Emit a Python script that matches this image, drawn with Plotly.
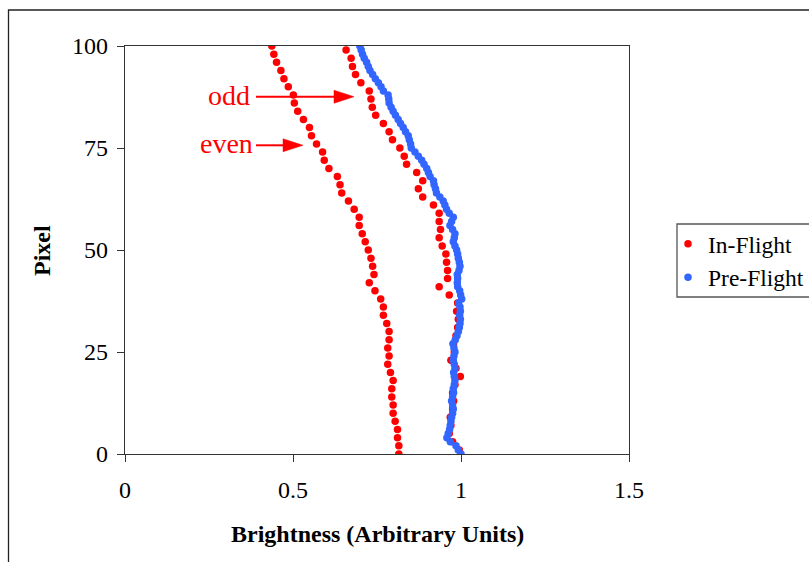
import plotly.graph_objects as go

# ---------------- data ----------------
pre_flight_pixel = list(range(0, 101))
pre_flight_brightness = [
    1.000, 0.992, 0.985, 0.968, 0.958, 0.962, 0.966, 0.968, 0.970, 0.972,
    0.975, 0.977, 0.975, 0.972, 0.975, 0.978, 0.977, 0.980, 0.982, 0.980,
    0.978, 0.982, 0.980, 0.977, 0.979, 0.982, 0.979, 0.976, 0.983, 0.988,
    0.992, 0.995, 0.997, 0.998, 0.996, 0.998, 0.997, 0.993, 1.002, 0.999,
    0.996, 0.990, 0.989, 0.990, 0.989, 0.994, 0.997, 0.995, 0.992, 0.990,
    0.987, 0.982, 0.977, 0.980, 0.982, 0.975, 0.967, 0.972, 0.977, 0.965,
    0.957, 0.952, 0.947, 0.937, 0.927, 0.924, 0.920, 0.918, 0.908, 0.903,
    0.898, 0.890, 0.883, 0.873, 0.863, 0.852, 0.850, 0.846, 0.843, 0.835,
    0.828, 0.820, 0.813, 0.805, 0.798, 0.792, 0.786, 0.785, 0.783, 0.769,
    0.762, 0.754, 0.745, 0.737, 0.729, 0.724, 0.719, 0.712, 0.707, 0.703,
    0.699,
]

in_flight_odd_pixel = list(range(1, 100, 2))
in_flight_odd_brightness = [
    0.995, 0.975, 0.965, 0.970, 0.968, 0.975, 0.978, 0.975, 0.982, 0.998,
    0.985, 0.970, 0.980, 0.978, 0.985, 0.990, 0.992, 0.987, 0.990, 0.965,
    0.935, 0.960, 0.960, 0.957, 0.955, 0.944, 0.935, 0.939, 0.935, 0.935,
    0.918, 0.886, 0.873, 0.886, 0.868, 0.838, 0.831, 0.818, 0.796, 0.786,
    0.769, 0.746, 0.736, 0.732, 0.727, 0.702, 0.686, 0.677, 0.673, 0.658,
]

in_flight_even_pixel = list(range(0, 101, 2))
in_flight_even_brightness = [
    0.815, 0.815, 0.811, 0.811, 0.804, 0.798, 0.798, 0.794, 0.794, 0.798,
    0.790, 0.782, 0.786, 0.782, 0.786, 0.786, 0.779, 0.769, 0.769, 0.761,
    0.744, 0.727, 0.741, 0.737, 0.732, 0.724, 0.715, 0.706, 0.697, 0.697,
    0.682, 0.665, 0.645, 0.640, 0.632, 0.607, 0.593, 0.588, 0.570, 0.555,
    0.549, 0.531, 0.514, 0.504, 0.501, 0.486, 0.473, 0.464, 0.451, 0.443,
    0.437,
]

x_ticks = [0, 0.5, 1, 1.5]
x_tick_labels = ["0", "0.5", "1", "1.5"]
y_ticks = [0, 25, 50, 75, 100]
y_tick_labels = ["0", "25", "50", "75", "100"]

# ---------------- figure ----------------
SERIF = "Liberation Serif, Times New Roman, serif"
RED = "#FF0000"
BLUE = "#3366FF"

fig = go.Figure()
fig.add_trace(go.Scatter(
    x=in_flight_even_brightness + in_flight_odd_brightness,
    y=in_flight_even_pixel + in_flight_odd_pixel,
    mode="markers", name="In-Flight",
    marker=dict(color=RED, size=7.5, line=dict(width=0)),
))
fig.add_trace(go.Scatter(
    x=pre_flight_brightness, y=pre_flight_pixel,
    mode="markers", name="Pre-Flight",
    marker=dict(color=BLUE, size=7.5, line=dict(width=0)),
))

axis_common = dict(
    showgrid=False, zeroline=False, showline=True, linecolor="#333333",
    linewidth=1.3, mirror=True, ticks="outside", ticklen=7, tickwidth=1.3,
    tickcolor="#333333", tickfont=dict(family=SERIF, size=24, color="black"),
)
fig.update_xaxes(range=[0, 1.5], tickvals=x_ticks, ticktext=x_tick_labels,
                 ticklabelstandoff=7, **axis_common)
fig.update_yaxes(range=[0, 100], tickvals=y_ticks, ticktext=y_tick_labels,
                 ticklabelstandoff=4, **axis_common)

def px_x(px):
    return (px - 125) / 336.0

def px_y(py):
    return (454 - py) / 4.08

def paper_x(px):
    return (px - 125) / 504.0

def paper_y(py):
    return (454 - py) / 408.0

shapes = []
# outer chart frame
shapes.append(dict(type="rect", xref="paper", yref="paper",
                   x0=paper_x(8.5), x1=1.6, y0=-0.6, y1=paper_y(10),
                   line=dict(color="#222222", width=1.3), fillcolor="rgba(0,0,0,0)"))
# legend frame
shapes.append(dict(type="rect", xref="paper", yref="paper",
                   x0=paper_x(677), x1=paper_x(830), y0=paper_y(297), y1=paper_y(224),
                   line=dict(color="#555555", width=1.3), fillcolor="white", layer="below"))
# arrows
for (x_start, x_base, x_tip, y_mid) in [(256, 334, 354, 96.7), (256, 283, 303, 145.3)]:
    shapes.append(dict(type="line", xref="x", yref="y",
                       x0=px_x(x_start), x1=px_x(x_base + 2), y0=px_y(y_mid), y1=px_y(y_mid),
                       line=dict(color=RED, width=2)))
    shapes.append(dict(type="path", xref="x", yref="y",
                       path="M {a},{b} L {c},{d} L {e},{f} Z".format(
                           a=px_x(x_base), b=px_y(y_mid - 6.5),
                           c=px_x(x_tip), d=px_y(y_mid),
                           e=px_x(x_base), f=px_y(y_mid + 6.5)),
                       fillcolor=RED, line=dict(color=RED, width=0.5)))

annotations = [
    dict(text="odd", x=px_x(229), y=px_y(95), xref="x", yref="y", showarrow=False,
         font=dict(family=SERIF, size=28, color=RED), xanchor="center", yanchor="middle"),
    dict(text="even", x=px_x(226), y=px_y(143), xref="x", yref="y", showarrow=False,
         font=dict(family=SERIF, size=28, color=RED), xanchor="center", yanchor="middle"),
    dict(text="<b>Brightness (Arbitrary Units)</b>", x=0.5, y=paper_y(534),
         xref="paper", yref="paper", showarrow=False,
         font=dict(family=SERIF, size=24, color="black"), xanchor="center", yanchor="middle"),
    dict(text="<b>Pixel</b>", x=paper_x(42), y=paper_y(251),
         xref="paper", yref="paper", showarrow=False, textangle=-90,
         font=dict(family=SERIF, size=24, color="black"), xanchor="center", yanchor="middle"),
]

fig.update_layout(
    width=809, height=562,
    margin=dict(l=125, r=180, t=46, b=108, autoexpand=False),
    paper_bgcolor="white", plot_bgcolor="white",
    shapes=shapes, annotations=annotations,
    showlegend=True,
    legend=dict(x=paper_x(668), y=paper_y(222), xanchor="left", yanchor="top",
                bgcolor="rgba(0,0,0,0)", borderwidth=0,
                font=dict(family=SERIF, size=23.5, color="black"),
                itemwidth=30, tracegroupgap=0),
)

fig.write_html("out.html")
